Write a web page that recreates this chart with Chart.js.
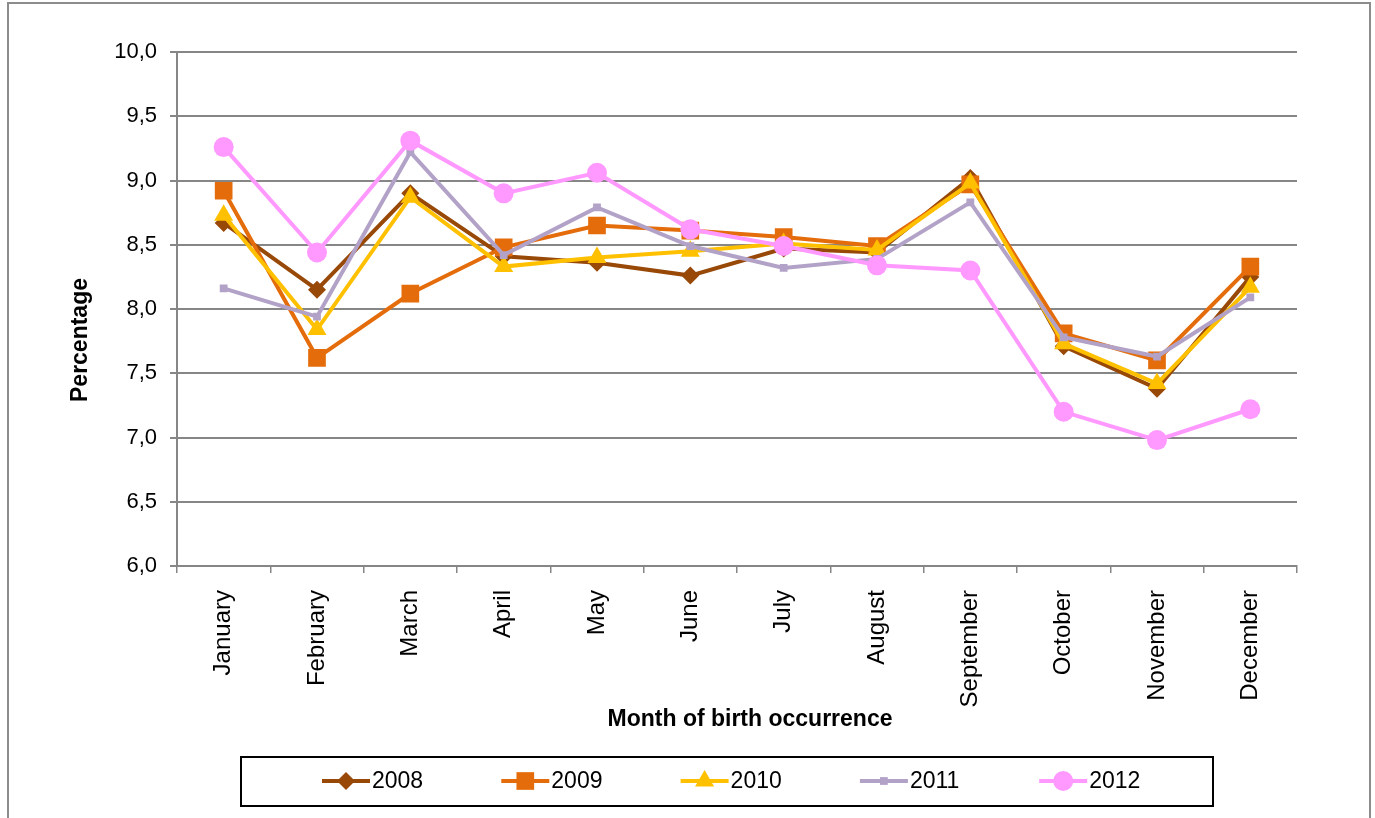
<!DOCTYPE html>
<html>
<head>
<meta charset="utf-8">
<script src="https://cdn.jsdelivr.net/npm/chart.js@4/dist/chart.umd.min.js"></script>
<style>
  html, body { margin: 0; padding: 0; background: #ffffff; }
  #wrap { position: relative; width: 1375px; height: 818px; }
  canvas { display: block; }
</style>
</head>
<body>
<div id="wrap"><canvas id="c" width="1375" height="818"></canvas></div>
<script>
const months = ["January","February","March","April","May","June","July","August","September","October","November","December"];
const years = ["2008","2009","2010","2011","2012"];
const d2008 = [8.67, 8.15, 8.90, 8.41, 8.36, 8.26, 8.47, 8.44, 9.02, 7.71, 7.38, 8.25];
const d2009 = [8.92, 7.62, 8.12, 8.48, 8.65, 8.61, 8.56, 8.49, 8.97, 7.81, 7.60, 8.33];
const d2010 = [8.73, 7.84, 8.87, 8.33, 8.40, 8.45, 8.51, 8.46, 8.98, 7.73, 7.42, 8.17];
const d2011 = [8.16, 7.94, 9.22, 8.42, 8.79, 8.49, 8.32, 8.39, 8.83, 7.78, 7.63, 8.09];
const d2012 = [9.26, 8.44, 9.31, 8.90, 9.06, 8.62, 8.49, 8.34, 8.30, 7.20, 6.98, 7.22];
const yTicks = [6.0, 6.5, 7.0, 7.5, 8.0, 8.5, 9.0, 9.5, 10.0];
const xTitle = "Month of birth occurrence";
const yTitle = "Percentage";

const seriesData = [d2008, d2009, d2010, d2011, d2012];
const colors = ["#984807", "#E46C0A", "#FFC000", "#B3A2C7", "#FF99FF"];
const markers = ["rectRot", "rect", "triangle", "rect", "circle"];
const radii = [9, 12.5, 11, 5.5, 10];

const FONT = "'Liberation Sans', Arial, sans-serif";
const GRID = "#868686";

const datasets = years.map((y, i) => ({
  label: y,
  data: seriesData[i],
  borderColor: colors[i],
  backgroundColor: colors[i],
  pointBackgroundColor: colors[i],
  pointBorderColor: colors[i],
  pointBorderWidth: 0,
  borderWidth: 4,
  pointStyle: markers[i],
  pointRadius: radii[i],
  pointHoverRadius: radii[i],
  tension: 0,
  order: years.length - i
}));

const decor = {
  id: 'decor',
  beforeDraw(chart) {
    const ctx = chart.ctx;
    ctx.save();
    ctx.fillStyle = '#ffffff';
    ctx.fillRect(0, 0, chart.width, chart.height);
    ctx.strokeStyle = '#8c8c8c';
    ctx.lineWidth = 2;
    ctx.strokeRect(8, 3, 1362, 830);
    ctx.restore();
  },
  afterDraw(chart) {
    const ctx = chart.ctx;
    ctx.save();
    ctx.fillStyle = '#000';
    ctx.font = "bold 23px " + FONT;
    ctx.textAlign = 'center';
    ctx.textBaseline = 'middle';
    ctx.fillText(xTitle, 750, 720);
    ctx.save();
    ctx.translate(81, 340);
    ctx.rotate(-Math.PI / 2);
    ctx.fillText(yTitle, 0, 0);
    ctx.restore();

    ctx.strokeStyle = '#000';
    ctx.lineWidth = 2;
    ctx.strokeRect(241, 757, 972, 49);
    const cy = 781;
    ctx.font = "23px " + FONT;
    ctx.textAlign = 'left';
    ctx.textBaseline = 'middle';
    years.forEach((y, i) => {
      const x0 = 322 + i * 179.3;
      ctx.strokeStyle = colors[i];
      ctx.lineWidth = 4;
      ctx.beginPath();
      ctx.moveTo(x0, cy);
      ctx.lineTo(x0 + 48, cy);
      ctx.stroke();
      ctx.fillStyle = colors[i];
      ctx.strokeStyle = colors[i];
      ctx.lineWidth = 0;
      Chart.helpers.drawPoint(ctx, { pointStyle: markers[i], radius: radii[i], rotation: 0, borderWidth: 0 }, x0 + 24, cy);
      ctx.fillStyle = '#000';
      ctx.fillText(y, x0 + 50, cy + 1);
    });
    ctx.restore();
  }
};

new Chart(document.getElementById('c'), {
  type: 'line',
  data: { labels: months, datasets },
  options: {
    responsive: false,
    animation: false,
    devicePixelRatio: 1,
    layout: { padding: { left: 0, top: 52, right: 78, bottom: 102 } },
    plugins: {
      legend: { display: false },
      tooltip: { enabled: false },
      title: { display: false }
    },
    scales: {
      x: {
        type: 'category',
        offset: true,
        afterFit(scale) { scale.height = 150; },
        grid: {
          offset: true,
          drawOnChartArea: false,
          drawTicks: true,
          tickLength: 7,
          color: GRID,
          lineWidth: 1.5
        },
        border: { display: true, color: GRID, width: 2 },
        ticks: {
          autoSkip: false,
          maxRotation: 90,
          minRotation: 90,
          padding: 17,
          color: '#000',
          font: { family: FONT, size: 24 }
        }
      },
      y: {
        min: 6,
        max: 10,
        afterFit(scale) { scale.width = 177; },
        afterBuildTicks(scale) { scale.ticks = yTicks.map(v => ({ value: v })); },
        grid: {
          color: GRID,
          lineWidth: 2,
          drawTicks: true,
          tickLength: 7
        },
        border: { display: true, color: GRID, width: 2 },
        ticks: {
          padding: 13,
          color: '#000',
          font: { family: FONT, size: 22 },
          callback: (v) => Number(v).toFixed(1).replace('.', ',')
        }
      }
    }
  },
  plugins: [decor]
});
</script>
</body>
</html>
